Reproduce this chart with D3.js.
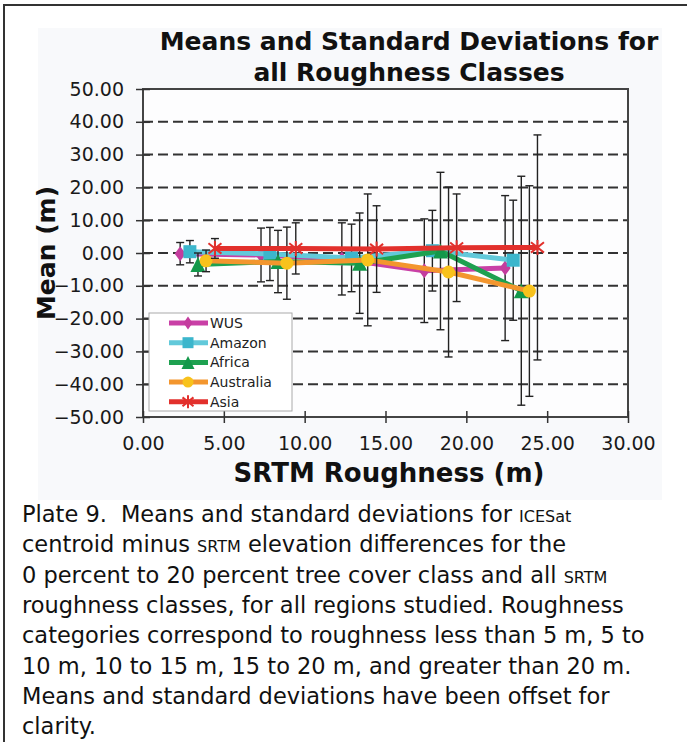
<!DOCTYPE html>
<html>
<head>
<meta charset="utf-8">
<script src="https://cdn.jsdelivr.net/npm/d3@7"></script>
<style>
  body { margin: 0; background: #ffffff; }
  text { font-family: "DejaVu Sans", Verdana, sans-serif; }
</style>
</head>
<body>
<div id="chart"></div>
<script>
////////////////////////////////////////////////////////////////////////
// Data

let seriesNames = ["WUS", "Amazon", "Africa", "Australia", "Asia"];

// x position of each point (each region is offset inside its roughness class)
let wusX       = [2.3, 7.3, 12.3, 17.4, 22.4];
let amazonX    = [2.9, 7.85, 12.9, 17.9, 22.9];
let africaX    = [3.4, 8.35, 13.4, 18.4, 23.4];
let australiaX = [3.9, 8.9, 13.9, 18.9, 23.9];
let asiaX      = [4.45, 9.45, 14.45, 19.4, 24.4];

// means (m)
let wusMean       = [-0.2, -0.6, -1.8, -5.4, -4.6];
let amazonMean    = [0.4, -0.3, -1.5, 0.7, -2.2];
let africaMean    = [-3.5, -2.6, -3.1, 0.6, -11.5];
let australiaMean = [-2.4, -3.1, -2.1, -5.8, -11.6];
let asiaMean      = [1.4, 1.4, 1.2, 1.6, 1.7];

// standard deviations (m)
let wusSd       = [3.4, 8.2, 11.0, 15.8, 22.1];
let amazonSd    = [3.4, 8.1, 10.3, 12.3, 18.3];
let africaSd    = [3.5, 9.5, 15.3, 24.0, 34.9];
let australiaSd = [3.3, 11.0, 20.1, 25.9, 32.1];
let asiaSd      = [3.0, 7.8, 13.2, 16.4, 34.3];

let xTicks = [0, 5, 10, 15, 20, 25, 30];
let yTicks = [-50, -40, -30, -20, -10, 0, 10, 20, 30, 40, 50];

let titleLines = ["Means and Standard Deviations for", "all Roughness Classes"];
let xTitle = "SRTM Roughness (m)";
let yTitle = "Mean (m)";

// {...} marks the small-caps words of the caption
let captionLabel = "Plate 9.";
let captionLines = [
  "Means and standard deviations for {ICESat}",
  "centroid minus {SRTM} elevation differences for the",
  "0 percent to 20 percent tree cover class and all {SRTM}",
  "roughness classes, for all regions studied. Roughness",
  "categories correspond to roughness less than 5 m, 5 to",
  "10 m, 10 to 15 m, 15 to 20 m, and greater than 20 m.",
  "Means and standard deviations have been offset for",
  "clarity."
];

////////////////////////////////////////////////////////////////////////
// Layout and styles

let width = 687, height = 742;
let plot = { left: 143, right: 628, top: 89, bottom: 417 };

let styles = {
  WUS:       { line: "#c940a6", marker: "#c43c9e", shape: "diamond" },
  Amazon:    { line: "#62c9da", marker: "#3cb6cc", shape: "square" },
  Africa:    { line: "#1ea150", marker: "#13984a", shape: "triangle" },
  Australia: { line: "#f3962e", marker: "#f8c21c", shape: "circle" },
  Asia:      { line: "#e2302c", marker: "#e2302c", shape: "star" }
};

let series = [
  { name: "WUS",       x: wusX,       mean: wusMean,       sd: wusSd },
  { name: "Amazon",    x: amazonX,    mean: amazonMean,    sd: amazonSd },
  { name: "Africa",    x: africaX,    mean: africaMean,    sd: africaSd },
  { name: "Australia", x: australiaX, mean: australiaMean, sd: australiaSd },
  { name: "Asia",      x: asiaX,      mean: asiaMean,      sd: asiaSd }
].map(function(s) {
  s.points = s.x.map(function(x, i) {
    return { x: x, mean: s.mean[i], sd: s.sd[i] };
  });
  return s;
});

let xScale = d3.scaleLinear().domain([0, 30]).range([plot.left, plot.right]);
let yScale = d3.scaleLinear().domain([-50, 50]).range([plot.bottom, plot.top]);

let svg = d3.select("#chart")
  .append("svg")
  .attr("width", width)
  .attr("height", height);

// outer frame of the plate (continues past the picture on the right/bottom)
svg.append("rect")
  .attr("x", 4).attr("y", 5)
  .attr("width", 720).attr("height", 800)
  .attr("fill", "#ffffff")
  .attr("stroke", "#333")
  .attr("stroke-width", 2);

// faint chart area
svg.append("rect")
  .attr("x", 38).attr("y", 28)
  .attr("width", 624).attr("height", 472)
  .attr("fill", "#f8f9fb");

svg.append("rect")
  .attr("x", plot.left).attr("y", plot.top)
  .attr("width", plot.right - plot.left)
  .attr("height", plot.bottom - plot.top)
  .attr("fill", "#fdfdfe");

// title
svg.append("g")
  .selectAll("text")
  .data(titleLines)
  .enter()
  .append("text")
  .attr("x", 409)
  .attr("y", function(d, i) { return 50 + i * 31; })
  .attr("text-anchor", "middle")
  .attr("font-size", 25)
  .attr("font-weight", "bold")
  .attr("fill", "#111")
  .text(function(d) { return d; });

// dashed gridlines
svg.append("g")
  .selectAll("line")
  .data(yTicks.filter(function(d) { return d > -50 && d < 50; }))
  .enter()
  .append("line")
  .attr("x1", plot.left).attr("x2", plot.right)
  .attr("y1", yScale).attr("y2", yScale)
  .attr("stroke", "#333")
  .attr("stroke-width", 2)
  .attr("stroke-dasharray", "10,5");

// plot box
svg.append("rect")
  .attr("x", plot.left).attr("y", plot.top)
  .attr("width", plot.right - plot.left)
  .attr("height", plot.bottom - plot.top)
  .attr("fill", "none")
  .attr("stroke", "#444")
  .attr("stroke-width", 2);

// y axis: ticks crossing the axis line
let yAxis = svg.append("g")
  .attr("transform", "translate(" + plot.left + ",0)")
  .call(d3.axisLeft(yScale).tickValues(yTicks)
    .tickFormat(d3.format(".2f")).tickSizeInner(7).tickSizeOuter(0).tickPadding(12));
yAxis.select(".domain").remove();
yAxis.selectAll(".tick line").attr("x1", -7).attr("x2", 7).attr("stroke", "#333").attr("stroke-width", 1.5);
yAxis.selectAll(".tick text")
  .attr("font-size", 19)
  .attr("font-family", "DejaVu Sans, Verdana, sans-serif")
  .attr("fill", "#1a1a1a");

// x axis
let xAxis = svg.append("g")
  .attr("transform", "translate(0," + plot.bottom + ")")
  .call(d3.axisBottom(xScale).tickValues(xTicks)
    .tickFormat(d3.format(".2f")).tickSizeInner(6).tickSizeOuter(0).tickPadding(14));
xAxis.select(".domain").remove();
xAxis.selectAll(".tick line").attr("y2", 6).attr("y1", -6).attr("stroke", "#333").attr("stroke-width", 1.5);
xAxis.selectAll(".tick text")
  .attr("font-size", 19)
  .attr("font-family", "DejaVu Sans, Verdana, sans-serif")
  .attr("fill", "#1a1a1a");

// axis titles
svg.append("text")
  .attr("x", 389).attr("y", 482)
  .attr("text-anchor", "middle")
  .attr("font-size", 26)
  .attr("font-weight", "bold")
  .attr("fill", "#111")
  .text(xTitle);

svg.append("text")
  .attr("transform", "translate(55," + yScale(0) + ") rotate(-90)")
  .attr("text-anchor", "middle")
  .attr("font-size", 25)
  .attr("font-weight", "bold")
  .attr("fill", "#111")
  .text(yTitle);

////////////////////////////////////////////////////////////////////////
// Markers

function drawMarker(g, shape, color, size) {
  let r = size / 2;
  if (shape === "diamond") {
    g.append("path").attr("d", "M0," + (-r - 1) + "L" + (r - 1) + ",0L0," + (r + 1) + "L" + (-r + 1) + ",0Z")
      .attr("fill", color);
  } else if (shape === "square") {
    g.append("rect").attr("x", -r).attr("y", -r).attr("width", size).attr("height", size)
      .attr("fill", color);
  } else if (shape === "triangle") {
    g.append("path").attr("d", "M0," + (-r - 1) + "L" + (r + 1) + "," + (r + 1) + "L" + (-r - 1) + "," + (r + 1) + "Z")
      .attr("fill", color);
  } else if (shape === "circle") {
    g.append("circle").attr("r", r).attr("fill", color);
  } else if (shape === "star") {
    g.append("path")
      .attr("d", "M" + (-r) + "," + (-r * 0.8) + "L" + r + "," + (r * 0.8) + "M" + r + "," + (-r * 0.8) + "L" + (-r) + "," + (r * 0.8) +
                 "M0," + (-r - 1) + "L0," + (r + 1))
      .attr("stroke", color).attr("stroke-width", 2).attr("fill", "none");
  }
}

let line = d3.line()
  .x(function(d) { return xScale(d.x); })
  .y(function(d) { return yScale(d.mean); });

// each series: line, error bars, markers (Excel drawing order)
series.forEach(function(s) {
  let st = styles[s.name];
  let g = svg.append("g");

  g.append("path")
    .datum(s.points)
    .attr("d", line)
    .attr("fill", "none")
    .attr("stroke", st.line)
    .attr("stroke-width", 5)
    .attr("stroke-linejoin", "round");

  let bars = g.selectAll(".bar")
    .data(s.points)
    .enter()
    .append("g")
    .attr("class", "bar");
  bars.append("line")
    .attr("x1", function(d) { return xScale(d.x); })
    .attr("x2", function(d) { return xScale(d.x); })
    .attr("y1", function(d) { return yScale(d.mean + d.sd); })
    .attr("y2", function(d) { return yScale(d.mean - d.sd); });
  bars.append("line")
    .attr("x1", function(d) { return xScale(d.x) - 4; })
    .attr("x2", function(d) { return xScale(d.x) + 4; })
    .attr("y1", function(d) { return yScale(d.mean + d.sd); })
    .attr("y2", function(d) { return yScale(d.mean + d.sd); });
  bars.append("line")
    .attr("x1", function(d) { return xScale(d.x) - 4; })
    .attr("x2", function(d) { return xScale(d.x) + 4; })
    .attr("y1", function(d) { return yScale(d.mean - d.sd); })
    .attr("y2", function(d) { return yScale(d.mean - d.sd); });
  bars.selectAll("line").attr("stroke", "#222").attr("stroke-width", 1.4);

  g.selectAll(".marker")
    .data(s.points)
    .enter()
    .append("g")
    .attr("class", "marker")
    .attr("transform", function(d) {
      return "translate(" + xScale(d.x) + "," + yScale(d.mean) + ")";
    })
    .each(function() { drawMarker(d3.select(this), st.shape, st.marker, 13); });
});

////////////////////////////////////////////////////////////////////////
// Legend

let legend = svg.append("g").attr("transform", "translate(149,313)");
legend.append("rect")
  .attr("width", 143).attr("height", 98)
  .attr("fill", "#ffffff")
  .attr("stroke", "#aaa")
  .attr("stroke-width", 1);

let items = legend.selectAll(".item")
  .data(seriesNames)
  .enter()
  .append("g")
  .attr("class", "item")
  .attr("transform", function(d, i) { return "translate(0," + (10 + i * 19.7) + ")"; });
items.append("line")
  .attr("x1", 20).attr("x2", 59)
  .attr("stroke", function(d) { return styles[d].line; })
  .attr("stroke-width", 5);
items.each(function(d) {
  let m = d3.select(this).append("g").attr("transform", "translate(39,0)");
  drawMarker(m, styles[d].shape, styles[d].marker, 11);
});
items.append("text")
  .attr("x", 61).attr("y", 5)
  .attr("font-size", 14)
  .attr("fill", "#222")
  .text(function(d) { return d; });

////////////////////////////////////////////////////////////////////////
// Caption

let caption = svg.append("g")
  .selectAll("text")
  .data(captionLines)
  .enter()
  .append("text")
  .attr("x", 22)
  .attr("y", function(d, i) { return 522 + i * 30.3; })
  .attr("font-family", "Roboto, 'Liberation Sans', sans-serif")
  .attr("font-size", 22.5)
  .attr("fill", "#111");

caption.each(function(d, i) {
  let t = d3.select(this);
  let first = true;
  if (i === 0) {
    t.append("tspan").text(captionLabel);
  }
  d.split(/(\{[^}]+\})/).forEach(function(part) {
    if (part === "") return;
    let ts = t.append("tspan");
    if (i === 0 && first) ts.attr("dx", 14);
    first = false;
    if (part.charAt(0) === "{") {
      ts.attr("font-size", 16).text(part.slice(1, -1).toUpperCase().replace("ICESAT", "ICESat"));
    } else {
      ts.text(part);
    }
  });
});
</script>
</body>
</html>
